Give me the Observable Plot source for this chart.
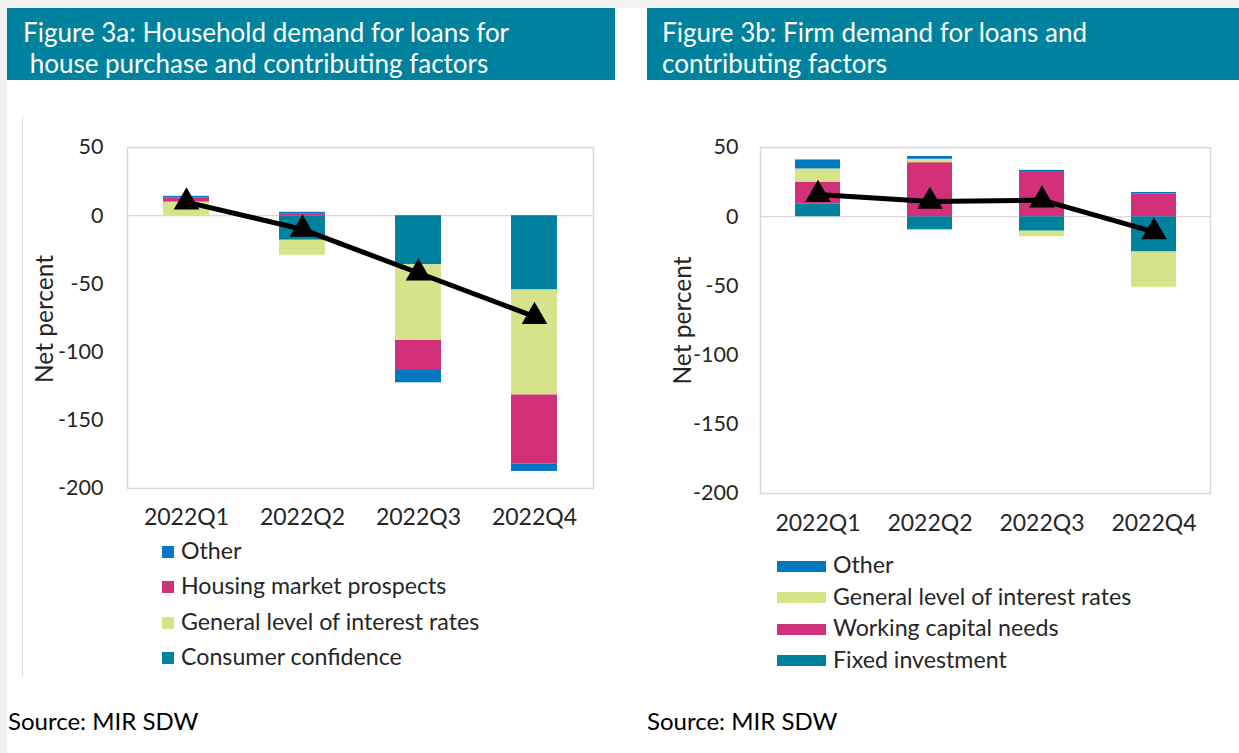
<!DOCTYPE html>
<html>
<head>
<meta charset="utf-8">
<script src="https://cdn.jsdelivr.net/npm/d3@7"></script>
<script src="https://cdn.jsdelivr.net/npm/@observablehq/plot@0.6"></script>
<style>
  html, body { margin: 0; padding: 0; }
  body { width: 1239px; height: 753px; position: relative; overflow: hidden; background: #ffffff; font-family: Lato, "Open Sans", sans-serif; }
  .abs { position: absolute; }
  .titlebar { position: absolute; background: #00829f; color: #ffffff; font-size: 26px; line-height: 31px; white-space: pre; box-sizing: border-box; }
  .leg { position: absolute; font-size: 23.2px; color: #262626; white-space: pre; line-height: 23px; }
  .sw { position: absolute; }
  .src { position: absolute; font-size: 24px; line-height: 24px; color: #000; white-space: pre; }
</style>
</head>
<body>
<div class="abs" style="left:0;top:0;width:1239px;height:8px;background:#f2f2f2"></div>
<div class="abs" style="left:0;top:0;width:7px;height:753px;background:#f2f2f2"></div>
<div class="abs" style="left:22px;top:117px;width:1px;height:559px;background:#d9d9d9"></div>

<div class="titlebar" style="left:7px;top:8px;width:608px;height:72px;padding:9px 0 0 16px">Figure 3a: Household demand for loans for
 house purchase and contributing factors</div>
<div class="titlebar" style="left:647px;top:8px;width:592px;height:72px;padding:9px 0 0 15px">Figure 3b: Firm demand for loans and
contributing factors</div>

<div id="c1" class="abs" style="left:22px;top:120px"></div>
<div id="c2" class="abs" style="left:650px;top:120px"></div>

<div id="leg1"></div>
<div id="leg2"></div>

<div class="src" style="left:8px;top:709px">Source: MIR SDW</div>
<div class="src" style="left:647px;top:709px">Source: MIR SDW</div>

<script>
// ---- data ----
const quarters = ["2022Q1", "2022Q2", "2022Q3", "2022Q4"];
const yTicks = [-200, -150, -100, -50, 0, 50];
const yLabel = "Net percent";

// Figure 3a: households (stack order from zero outward)
const hhFactors = ["Consumer confidence", "General level of interest rates", "Housing market prospects", "Other"];
const hhConsumer = [0, -18, -36, -54.5];
const hhInterest = [10, -11, -55.5, -77];
const hhHousing = [3, 1.5, -22, -50.5];
const hhOther = [1.2, 1, -9, -5.5];
const hhNet = [10, -10, -42, -74];
const hhLegendOrder = ["Other", "Housing market prospects", "General level of interest rates", "Consumer confidence"];

// Figure 3b: firms
const fmFactors = ["Fixed investment", "Working capital needs", "General level of interest rates", "Other"];
const fmFixed = [9, -9.5, -10.5, -25.5];
const fmWorking = [16, 39, 32, 16.5];
const fmInterest = [9.5, 2.5, -4, -25.5];
const fmOther = [6.5, 2, 1.5, 1];
const fmNet = [16, 11, 12, -11];
const fmLegendOrder = ["Other", "General level of interest rates", "Working capital needs", "Fixed investment"];

const palette = {
  "Consumer confidence": "#00829f",
  "Fixed investment": "#00829f",
  "General level of interest rates": "#d6e38a",
  "Housing market prospects": "#d3307a",
  "Working capital needs": "#d3307a",
  "Other": "#0079c1"
};

function buildRows(factors, seriesList) {
  const rows = [];
  factors.forEach((f, i) => {
    quarters.forEach((q, j) => rows.push({q, factor: f, value: seriesList[i][j]}));
  });
  return rows;
}

function makeChart(opts) {
  const rows = buildRows(opts.factors, opts.series);
  const net = quarters.map((q, j) => ({q, v: opts.net[j]}));
  return Plot.plot({
    width: opts.width,
    height: opts.height,
    marginLeft: opts.ml,
    marginRight: opts.mr,
    marginTop: opts.mt,
    marginBottom: opts.mb,
    style: {fontFamily: "Lato, sans-serif", fontSize: "22px", color: "#262626", background: "transparent", overflow: "visible"},
    x: {domain: quarters, paddingInner: 0.6, paddingOuter: 0.3, label: null},
    y: {domain: [-200, 50], label: null},
    color: {domain: opts.factors, range: opts.factors.map(f => palette[f])},
    marks: [
      Plot.frame({stroke: "#d9d9d9", strokeWidth: 1.5}),
      Plot.ruleY([0], {stroke: "#d9d9d9", strokeWidth: 1.2}),
      Plot.barY(rows, {x: "q", y: "value", fill: "factor", inset: 0}),
      Plot.line(net, {x: "q", y: "v", stroke: "#000", strokeWidth: 5}),
      Plot.dot(net, {x: "q", y: "v", symbol: "triangle", r: 9.5, fill: "#000", stroke: "none"}),
      Plot.axisX({tickSize: 0, tickPadding: opts.xpad, fontSize: 23, label: null}),
      Plot.axisY({ticks: yTicks, tickFormat: d => String(d), tickSize: 0, tickPadding: opts.ypad, fontSize: 21.5, label: null}),
      Plot.text([yLabel], {text: d => d, frameAnchor: "left", rotate: -90, dx: opts.ldx, dy: opts.ldy,
        fontSize: 24.5, fill: "#262626", textAnchor: "middle", lineAnchor: "middle"})
    ]
  });
}

document.getElementById("c1").appendChild(makeChart({
  factors: hhFactors, series: [hhConsumer, hhInterest, hhHousing, hhOther], net: hhNet,
  width: 600, height: 420, ml: 105, mr: 29, mt: 27, mb: 52, xpad: 20, ypad: 24, ldx: -82, ldy: 1
}));
document.getElementById("c2").appendChild(makeChart({
  factors: fmFactors, series: [fmFixed, fmWorking, fmInterest, fmOther], net: fmNet,
  width: 580, height: 420, ml: 110, mr: 20, mt: 27, mb: 47, xpad: 21, ypad: 22, ldx: -77, ldy: 0
}));

// legends
function legend(containerId, names, x, top0, step, sw, sh, tx) {
  const c = document.getElementById(containerId);
  names.forEach((n, i) => {
    const top = top0 + i * step;
    const s = document.createElement("div");
    s.className = "sw";
    s.style.left = x + "px";
    s.style.top = (top + 13 - sh / 2) + "px";
    s.style.width = sw + "px";
    s.style.height = sh + "px";
    s.style.background = palette[n];
    c.appendChild(s);
    const t = document.createElement("div");
    t.className = "leg";
    t.style.left = tx + "px";
    t.style.top = top + "px";
    t.textContent = n;
    c.appendChild(t);
  });
}
legend("leg1", hhLegendOrder, 162, 539, 35.3, 12, 12, 181);
legend("leg2", fmLegendOrder, 777, 553, 31.6, 49, 11, 833);
</script>
</body>
</html>
